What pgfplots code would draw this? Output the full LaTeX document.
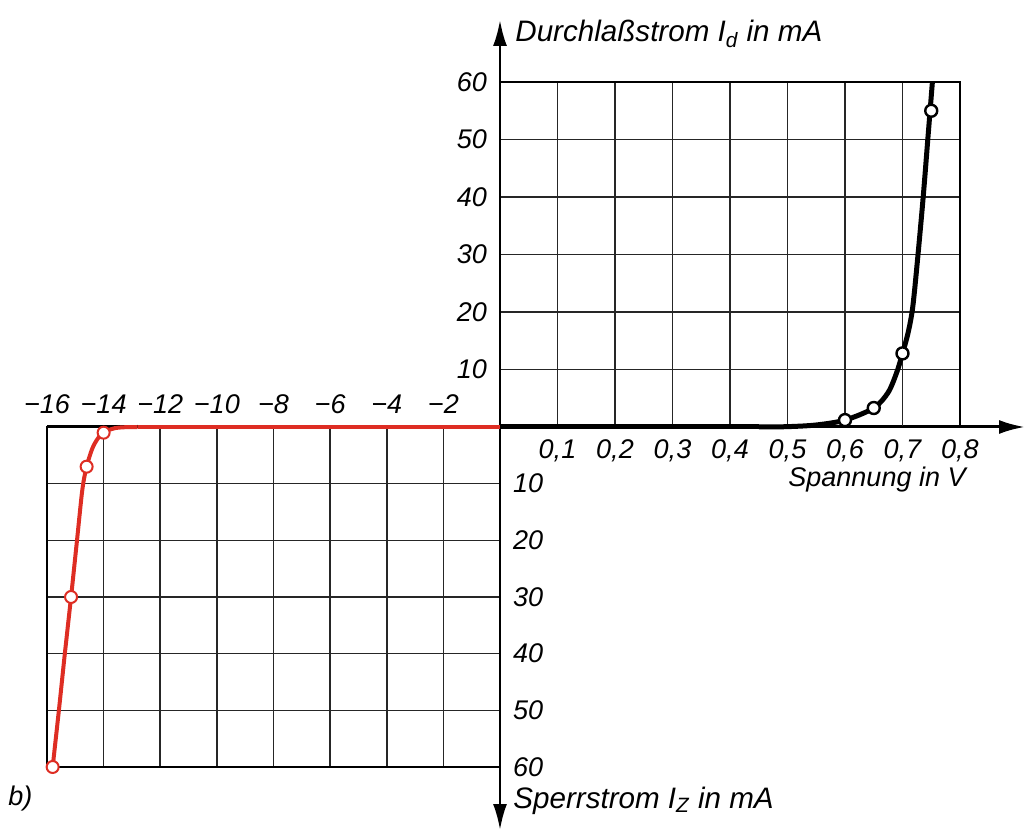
\documentclass[border=0pt]{standalone}
\usepackage{fontspec}
\setmainfont{Liberation Sans}
\usepackage{pgfplots}
\pgfplotsset{compat=1.18}
\usetikzlibrary{arrows.meta}
\definecolor{zred}{RGB}{222,45,35}
\newcommand{\lf}{\fontsize{13.5}{16}\selectfont\itshape}
\newcommand{\tf}{\fontsize{14.8}{17}\selectfont\itshape}

\begin{document}
\begin{tikzpicture}[x=1pt,y=1pt]
\useasboundingbox (-250,-203) rectangle (263,213.5);
% main axes
\draw[line width=1.5pt,-{Latex[length=13pt,width=7pt]}] (-226.5,0) -- (262.5,0);
\draw[line width=1.3pt,{Latex[length=13pt,width=7pt]}-{Latex[length=13pt,width=7pt]}] (0,-201.5) -- (0,203.5);

% forward quadrant
\begin{axis}[at={(0,0)}, anchor=south west, scale only axis,
  width=230pt, height=172.5pt,
  xmin=0, xmax=0.8, ymin=0, ymax=60,
  xtick={0.1,0.2,0.3,0.4,0.5,0.6,0.7,0.8},
  xticklabels={{0,1},{0,2},{0,3},{0,4},{0,5},{0,6},{0,7},{0,8}},
  ytick={10,20,30,40,50,60},
  yticklabels={10,20,30,40,50,60},
  grid=major, major grid style={black!85, line width=0.8pt},
  axis line style={black, line width=0.8pt},
  tick style={draw=none},
  ticklabel style={font=\lf},
  xticklabel style={yshift=-3pt},
  yticklabel style={xshift=-3pt},
  clip=false]
\addplot[black, line width=2.5pt] coordinates {(0,0) (0.45,0)};
\addplot[black, line width=2.5pt, smooth, tension=0.5] coordinates {
 (0.45,0) (0.5,0.06) (0.55,0.35)
 (0.6,1.2) (0.65,3.3) (0.675,6) (0.69,9.5) (0.7,12.8) (0.71,16.5)
 (0.718,21) (0.727,30) (0.736,40) (0.744,50) (0.752,60)};
\addplot[only marks, mark=*, mark size=3pt,
  mark options={fill=white, draw=black, line width=1.2pt}] coordinates {
 (0.6,1.2) (0.65,3.3) (0.7,12.8) (0.75,55)};
\end{axis}

% reverse quadrant
\begin{axis}[at={(0,0)}, anchor=north east, scale only axis,
  width=226.5pt, height=170pt,
  xmin=-16, xmax=0, ymin=-60, ymax=0,
  xtick={-16,-14,-12,-10,-8,-6,-4,-2},
  xticklabels={−16,−14,−12,−10,−8,−6,−4,−2},
  ytick={-60,-50,-40,-30,-20,-10},
  yticklabels={60,50,40,30,20,10},
  xticklabel pos=right, yticklabel pos=right,
  grid=major, major grid style={black!85, line width=0.8pt},
  axis line style={black, line width=0.8pt},
  tick style={draw=none},
  ticklabel style={font=\lf},
  xticklabel style={yshift=3pt},
  yticklabel style={xshift=3pt},
  clip=false]
\addplot[zred, line width=2pt] coordinates {(0,0) (-12.8,0)};
\addplot[zred, line width=2pt, smooth, tension=0.5] coordinates {
 (-12.8,0) (-13.3,-0.05) (-13.6,-0.2) (-13.85,-0.6)
 (-14,-1) (-14.2,-2) (-14.4,-3.8) (-14.6,-7) (-14.75,-11) (-14.94,-20)
 (-15.15,-30) (-15.37,-40) (-15.58,-50) (-15.8,-60)};
\addplot[only marks, mark=*, mark size=3pt,
  mark options={fill=white, draw=zred, line width=1pt}] coordinates {
 (-14,-1) (-14.6,-7) (-15.15,-30) (-15.8,-60)};
\end{axis}

\node[anchor=base west, inner sep=0pt, font=\tf] at (7.5,192.5) {Durchlaßstrom I\textsubscript{d} in mA};
\node[inner sep=0pt, font=\lf] at (188.5,-26.5) {Spannung in V};
\node[anchor=base west, inner sep=0pt, font=\tf] at (6.5,-190.5) {Sperrstrom I\textsubscript{Z} in mA};
\node[anchor=base west, inner sep=0pt, font=\lf] at (-246,-189) {b)};
\end{tikzpicture}
\end{document}
